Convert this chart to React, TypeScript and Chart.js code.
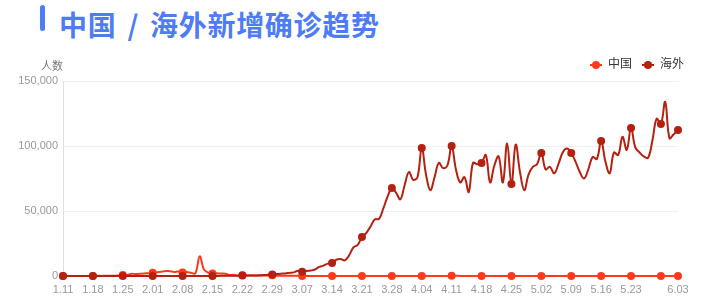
import React, { useEffect, useRef } from 'react';
import { Chart, registerables } from 'chart.js';

Chart.register(...registerables);

// ---- data ----
const TITLE_MAIN = '中国 / 海外新增确诊趋势';
const Y_AXIS_NAME = '人数';
const SERIES_NAMES = ['中国', '海外'];

// Daily labels from 1.11 to 6.03 (2020)
const START_MONTH = 1;
const START_DAY = 11;
const MONTH_LENGTHS = [31, 29, 31, 30, 31, 30];
const DAY_COUNT = 145;

function buildLabels(): string[] {
  const out: string[] = [];
  let m = START_MONTH;
  let d = START_DAY;
  for (let i = 0; i < DAY_COUNT; i++) {
    out.push(`${m}.${d < 10 ? '0' + d : d}`);
    d++;
    if (d > MONTH_LENGTHS[m - 1]) {
      d = 1;
      m++;
    }
  }
  return out;
}
const dateLabels = buildLabels();

// 中国 daily new confirmed
const chinaValues = [
  0, 0, 0, 0, 0, 0, 4,
  17, 136, 77, 149, 131, 259, 444,
  688, 769, 1771, 1459, 1737, 1982, 2102,
  2590, 2829, 3235, 3887, 3694, 3143, 3399,
  2656, 3062, 2478, 2015, 15152, 5090, 2641,
  2009, 2048, 1886, 1749, 820, 889, 397,
  648, 409, 508, 406, 433, 327, 427,
  573, 202, 125, 119, 139, 143, 99,
  44, 40, 19, 24, 15, 8, 11,
  20, 16, 21, 13, 34, 39, 41,
  46, 39, 78, 47, 67, 55, 54,
  45, 31, 48, 36, 35, 31, 19,
  30, 39, 32, 62, 63, 42, 46,
  99, 108, 89, 46, 46, 26, 27,
  16, 12, 11, 30, 11, 10, 6,
  12, 11, 6, 22, 4, 12, 1,
  2, 3, 1, 2, 2, 1, 2,
  1, 14, 17, 7, 3, 4, 8,
  5, 7, 6, 4, 6, 5, 0,
  3, 11, 7, 2, 1, 5, 4,
  2, 16, 5, 10, 6,
];

// 海外 daily new confirmed
const overseasValues = [
  0, 0, 1, 0, 0, 1, 0,
  1, 2, 3, 2, 4, 8, 10,
  12, 15, 14, 20, 18, 20, 22,
  25, 20, 18, 30, 25, 60, 45,
  40, 35, 30, 20, 50, 70, 60,
  90, 80, 100, 110, 120, 150, 230,
  300, 350, 300, 420, 500, 700, 1000,
  1200, 1500, 1800, 2000, 2400, 2800, 4000,
  3300, 3800, 4200, 5000, 7000, 8000, 9500,
  10000, 12500, 13000, 12000, 16000, 22000, 24000,
  30000, 33000, 38000, 43500, 44000, 52000, 61000,
  67700, 64000, 59000, 70000, 80000, 74000, 76000,
  98400, 78000, 66000, 76000, 87000, 83000, 85000,
  100000, 82000, 72000, 76000, 64600, 87000, 86000,
  87000, 93000, 72000, 85000, 92000, 72000, 102000,
  70700, 101000, 80000, 66000, 78000, 84000, 86000,
  94600, 82000, 84000, 79000, 86000, 95000, 98000,
  94600, 88000, 80000, 75000, 82000, 91500, 90000,
  103800, 88000, 79000, 95000, 93000, 107000, 97000,
  113800, 99000, 95000, 92000, 91000, 104000, 121000,
  117000, 134000, 106000, 109000, 112300,
];

const Y_MIN = 0;
const Y_MAX = 150000;
const Y_STEP = 50000;
const LABEL_EVERY = 7;

// ---- styles ----
const BLUE = '#4d7cf5';
const CHINA_COLOR = '#fe3a1d';
const OVERSEAS_COLOR = '#b42110';
const FONT = '"Liberation Sans", "Noto Sans CJK SC", sans-serif';

function isMarked(i: number, last: number) {
  return i % LABEL_EVERY === 0 || i === last;
}
function isLabelShown(i: number, last: number) {
  if (i === last) return true;
  return i % LABEL_EVERY === 0 && last - i >= LABEL_EVERY;
}

function makeMarker(color: string): HTMLCanvasElement {
  const c = document.createElement('canvas');
  c.width = 12;
  c.height = 10;
  const ctx = c.getContext('2d')!;
  ctx.strokeStyle = color;
  ctx.lineWidth = 2;
  ctx.beginPath();
  ctx.moveTo(0, 5);
  ctx.lineTo(12, 5);
  ctx.stroke();
  ctx.fillStyle = color;
  ctx.beginPath();
  ctx.arc(6, 5, 4, 0, Math.PI * 2);
  ctx.fill();
  return c;
}

const axisNamePlugin = {
  id: 'axisName',
  afterDraw(chart: any) {
    const { ctx, chartArea } = chart;
    ctx.save();
    ctx.font = `11px ${FONT}`;
    ctx.fillStyle = '#777';
    ctx.textAlign = 'center';
    ctx.textBaseline = 'middle';
    ctx.fillText(Y_AXIS_NAME, chartArea.left - 11, chartArea.top - 14);
    ctx.restore();
  },
};

export default function App() {
  const ref = useRef<HTMLCanvasElement | null>(null);

  useEffect(() => {
    if (!ref.current) return;
    const last = dateLabels.length - 1;
    const markers = [makeMarker(OVERSEAS_COLOR), makeMarker(CHINA_COLOR)];
    const radius = (ctx: any) => (isMarked(ctx.dataIndex, last) ? 4 : 0);

    const chart = new Chart(ref.current, {
      type: 'line',
      data: {
        labels: dateLabels,
        datasets: [
          {
            label: SERIES_NAMES[1],
            data: overseasValues,
            borderColor: OVERSEAS_COLOR,
            backgroundColor: OVERSEAS_COLOR,
            borderWidth: 2,
            tension: 0.4,
            pointRadius: radius,
            pointHoverRadius: radius,
            pointBorderWidth: 0,
            clip: false as any,
          },
          {
            label: SERIES_NAMES[0],
            data: chinaValues,
            borderColor: CHINA_COLOR,
            backgroundColor: CHINA_COLOR,
            borderWidth: 2,
            tension: 0.4,
            pointRadius: radius,
            pointHoverRadius: radius,
            pointBorderWidth: 0,
            clip: false as any,
          },
        ],
      },
      options: {
        animation: false,
        responsive: false,
        locale: 'en-US',
        layout: { padding: { top: 40, left: 0, right: 26, bottom: 0 } },
        plugins: {
          legend: {
            display: true,
            position: 'top',
            align: 'end',
            labels: {
              usePointStyle: true,
              pointStyleWidth: 12,
              boxHeight: 10,
              padding: 10,
              color: '#333',
              font: { size: 12, family: FONT },
              sort: (a: any, b: any) => b.datasetIndex - a.datasetIndex,
              generateLabels: (c: any) => {
                const items = Chart.defaults.plugins.legend.labels.generateLabels(c);
                items.forEach((it: any) => {
                  it.pointStyle = markers[it.datasetIndex];
                });
                return items;
              },
            },
          },
          tooltip: { enabled: false },
        },
        scales: {
          x: {
            type: 'category',
            offset: false,
            grid: { display: false, drawTicks: false },
            border: { display: true, color: '#e0e0e0' },
            ticks: {
              autoSkip: false,
              maxRotation: 0,
              minRotation: 0,
              padding: 7,
              color: '#999',
              font: { size: 11, family: FONT },
              callback: (_v: any, i: number) => (isLabelShown(i, last) ? dateLabels[i] : ''),
            },
            afterFit: (s: any) => {
              s.height = 29;
              s.paddingRight = 42;
            },
          },
          y: {
            min: Y_MIN,
            max: Y_MAX,
            ticks: {
              stepSize: Y_STEP,
              padding: 5,
              color: '#999',
              font: { size: 11, family: FONT },
            },
            grid: { color: '#f0f0f0', drawTicks: false },
            border: { display: true, color: '#e0e0e0' },
            afterFit: (s: any) => {
              s.width = 63;
              s.paddingTop = 81;
            },
          },
        },
      },
      plugins: [axisNamePlugin],
    });
    return () => chart.destroy();
  }, []);

  return (
    <div style={{ position: 'fixed', left: 0, top: 0, width: 720, height: 305, background: '#fff', overflow: 'hidden' }}>
      <div
        style={{ position: 'absolute', left: 40, top: 5, width: 5, height: 26, borderRadius: 3, background: BLUE }}
      />
      <div
        style={{
          position: 'absolute',
          left: 59,
          top: 10,
          fontSize: 28,
          lineHeight: '28px',
          fontWeight: 700,
          color: BLUE,
          fontFamily: '"Noto Sans CJK SC", sans-serif',
          whiteSpace: 'nowrap',
          wordSpacing: 4,
          letterSpacing: 0.7,
        }}
      >
        {TITLE_MAIN}
      </div>
      <canvas ref={ref} width={720} height={305} style={{ position: 'absolute', left: 0, top: 0, width: 720, height: 305 }} />
    </div>
  );
}
